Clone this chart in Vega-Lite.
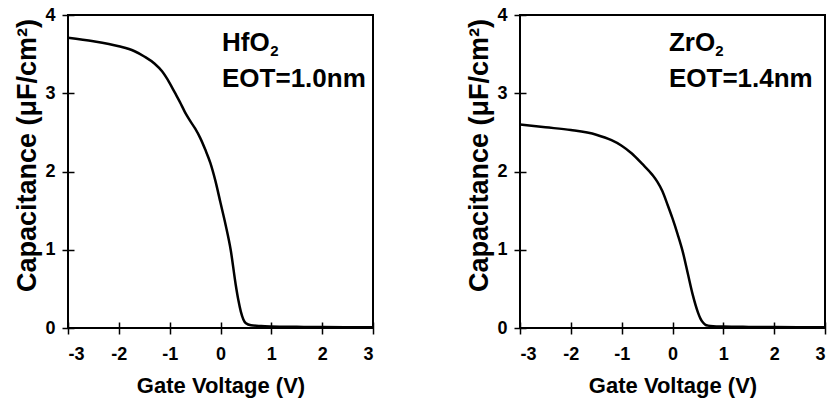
{
  "$schema": "https://vega.github.io/schema/vega-lite/v6.json",
  "background": "white",
  "padding": {"left": 12, "top": 5, "right": 2, "bottom": 2},
  "spacing": 85,
  "datasets": {
    "cv": [
      {"oxide": "HfO2", "v": -3.0, "c": 3.71},
      {"oxide": "HfO2", "v": -2.5, "c": 3.665},
      {"oxide": "HfO2", "v": -2.0, "c": 3.60},
      {"oxide": "HfO2", "v": -1.7, "c": 3.54},
      {"oxide": "HfO2", "v": -1.5, "c": 3.47},
      {"oxide": "HfO2", "v": -1.3, "c": 3.38},
      {"oxide": "HfO2", "v": -1.15, "c": 3.28},
      {"oxide": "HfO2", "v": -1.0, "c": 3.13},
      {"oxide": "HfO2", "v": -0.9, "c": 3.01},
      {"oxide": "HfO2", "v": -0.8, "c": 2.89},
      {"oxide": "HfO2", "v": -0.7, "c": 2.76},
      {"oxide": "HfO2", "v": -0.6, "c": 2.65},
      {"oxide": "HfO2", "v": -0.5, "c": 2.55},
      {"oxide": "HfO2", "v": -0.4, "c": 2.43},
      {"oxide": "HfO2", "v": -0.3, "c": 2.28},
      {"oxide": "HfO2", "v": -0.2, "c": 2.11},
      {"oxide": "HfO2", "v": -0.1, "c": 1.88},
      {"oxide": "HfO2", "v": 0.0, "c": 1.60},
      {"oxide": "HfO2", "v": 0.1, "c": 1.32},
      {"oxide": "HfO2", "v": 0.2, "c": 1.00},
      {"oxide": "HfO2", "v": 0.3, "c": 0.55},
      {"oxide": "HfO2", "v": 0.35, "c": 0.36},
      {"oxide": "HfO2", "v": 0.4, "c": 0.21},
      {"oxide": "HfO2", "v": 0.45, "c": 0.11},
      {"oxide": "HfO2", "v": 0.5, "c": 0.06},
      {"oxide": "HfO2", "v": 0.6, "c": 0.035},
      {"oxide": "HfO2", "v": 0.8, "c": 0.025},
      {"oxide": "HfO2", "v": 1.0, "c": 0.02},
      {"oxide": "HfO2", "v": 1.5, "c": 0.015},
      {"oxide": "HfO2", "v": 2.0, "c": 0.012},
      {"oxide": "HfO2", "v": 3.0, "c": 0.01},
      {"oxide": "ZrO2", "v": -3.0, "c": 2.60},
      {"oxide": "ZrO2", "v": -2.5, "c": 2.565},
      {"oxide": "ZrO2", "v": -2.0, "c": 2.53},
      {"oxide": "ZrO2", "v": -1.5, "c": 2.47},
      {"oxide": "ZrO2", "v": -1.2, "c": 2.40},
      {"oxide": "ZrO2", "v": -1.0, "c": 2.33},
      {"oxide": "ZrO2", "v": -0.8, "c": 2.23},
      {"oxide": "ZrO2", "v": -0.6, "c": 2.10},
      {"oxide": "ZrO2", "v": -0.4, "c": 1.96},
      {"oxide": "ZrO2", "v": -0.3, "c": 1.87},
      {"oxide": "ZrO2", "v": -0.2, "c": 1.75},
      {"oxide": "ZrO2", "v": -0.1, "c": 1.58},
      {"oxide": "ZrO2", "v": 0.0, "c": 1.40},
      {"oxide": "ZrO2", "v": 0.1, "c": 1.20},
      {"oxide": "ZrO2", "v": 0.2, "c": 0.98},
      {"oxide": "ZrO2", "v": 0.3, "c": 0.70},
      {"oxide": "ZrO2", "v": 0.4, "c": 0.42},
      {"oxide": "ZrO2", "v": 0.5, "c": 0.20},
      {"oxide": "ZrO2", "v": 0.55, "c": 0.12},
      {"oxide": "ZrO2", "v": 0.6, "c": 0.07},
      {"oxide": "ZrO2", "v": 0.65, "c": 0.04},
      {"oxide": "ZrO2", "v": 0.7, "c": 0.03},
      {"oxide": "ZrO2", "v": 0.8, "c": 0.022},
      {"oxide": "ZrO2", "v": 1.0, "c": 0.018},
      {"oxide": "ZrO2", "v": 1.5, "c": 0.014},
      {"oxide": "ZrO2", "v": 2.0, "c": 0.012},
      {"oxide": "ZrO2", "v": 3.0, "c": 0.01}
    ],
    "notes": [
      {"oxide": "HfO2", "part": "main", "v": 0.03, "c": 3.54, "text": "HfO"},
      {"oxide": "HfO2", "part": "sub", "v": 0.98, "c": 3.48, "text": "2"},
      {"oxide": "HfO2", "part": "main", "v": 0.03, "c": 3.08, "text": "EOT=1.0nm"},
      {"oxide": "ZrO2", "part": "main", "v": -0.07, "c": 3.54, "text": "ZrO"},
      {"oxide": "ZrO2", "part": "sub", "v": 0.84, "c": 3.48, "text": "2"},
      {"oxide": "ZrO2", "part": "main", "v": -0.07, "c": 3.08, "text": "EOT=1.4nm"}
    ]
  },
  "config": {
    "view": {"stroke": "black", "strokeWidth": 2},
    "font": "Liberation Sans",
    "axis": {
      "domain": false,
      "grid": false,
      "offset": -6,
      "tickSize": 12,
      "tickColor": "black",
      "tickWidth": 1.5,
      "labelFont": "Liberation Sans",
      "labelFontWeight": "bold",
      "labelFontSize": 18,
      "labelColor": "black",
      "labelExpr": "'' + datum.value",
      "titleFont": "Liberation Sans",
      "titleFontWeight": "bold",
      "titleColor": "black"
    },
    "axisX": {"labelPadding": 11, "labelAngle": 0, "titleFontSize": 22, "titlePadding": 12},
    "axisY": {"labelPadding": 7, "titleFontSize": 27, "titlePadding": 3, "titleY": 140}
  },
  "hconcat": [
    {
      "width": 305,
      "height": 313,
      "data": {"name": "cv"},
      "layer": [
        {
          "transform": [{"filter": "datum.oxide === 'HfO2'"}],
          "mark": {"type": "line", "color": "black", "strokeWidth": 2.5, "interpolate": "monotone"},
          "encoding": {
            "x": {"field": "v", "type": "quantitative", "title": "Gate Voltage (V)",
                  "scale": {"domain": [-3, 3], "nice": false},
                  "axis": {"values": [-3, -2, -1, 0, 1, 2, 3]}},
            "y": {"field": "c", "type": "quantitative", "title": "Capacitance (μF/cm²)",
                  "scale": {"domain": [0, 4], "nice": false},
                  "axis": {"values": [0, 1, 2, 3, 4]}}
          }
        },
        {
          "data": {"name": "notes"},
          "transform": [{"filter": "datum.oxide === 'HfO2' && datum.part === 'main'"}],
          "mark": {"type": "text", "align": "left", "baseline": "alphabetic", "fontSize": 26, "fontWeight": "bold", "color": "black"},
          "encoding": {
            "x": {"field": "v", "type": "quantitative"},
            "y": {"field": "c", "type": "quantitative"},
            "text": {"field": "text"}
          }
        },
        {
          "data": {"name": "notes"},
          "transform": [{"filter": "datum.oxide === 'HfO2' && datum.part === 'sub'"}],
          "mark": {"type": "text", "align": "left", "baseline": "alphabetic", "fontSize": 15, "fontWeight": "bold", "color": "black"},
          "encoding": {
            "x": {"field": "v", "type": "quantitative"},
            "y": {"field": "c", "type": "quantitative"},
            "text": {"field": "text"}
          }
        }
      ]
    },
    {
      "width": 305,
      "height": 313,
      "data": {"name": "cv"},
      "layer": [
        {
          "transform": [{"filter": "datum.oxide === 'ZrO2'"}],
          "mark": {"type": "line", "color": "black", "strokeWidth": 2.5, "interpolate": "monotone"},
          "encoding": {
            "x": {"field": "v", "type": "quantitative", "title": "Gate Voltage (V)",
                  "scale": {"domain": [-3, 3], "nice": false},
                  "axis": {"values": [-3, -2, -1, 0, 1, 2, 3]}},
            "y": {"field": "c", "type": "quantitative", "title": "Capacitance (μF/cm²)",
                  "scale": {"domain": [0, 4], "nice": false},
                  "axis": {"values": [0, 1, 2, 3, 4]}}
          }
        },
        {
          "data": {"name": "notes"},
          "transform": [{"filter": "datum.oxide === 'ZrO2' && datum.part === 'main'"}],
          "mark": {"type": "text", "align": "left", "baseline": "alphabetic", "fontSize": 26, "fontWeight": "bold", "color": "black"},
          "encoding": {
            "x": {"field": "v", "type": "quantitative"},
            "y": {"field": "c", "type": "quantitative"},
            "text": {"field": "text"}
          }
        },
        {
          "data": {"name": "notes"},
          "transform": [{"filter": "datum.oxide === 'ZrO2' && datum.part === 'sub'"}],
          "mark": {"type": "text", "align": "left", "baseline": "alphabetic", "fontSize": 15, "fontWeight": "bold", "color": "black"},
          "encoding": {
            "x": {"field": "v", "type": "quantitative"},
            "y": {"field": "c", "type": "quantitative"},
            "text": {"field": "text"}
          }
        }
      ]
    }
  ]
}
